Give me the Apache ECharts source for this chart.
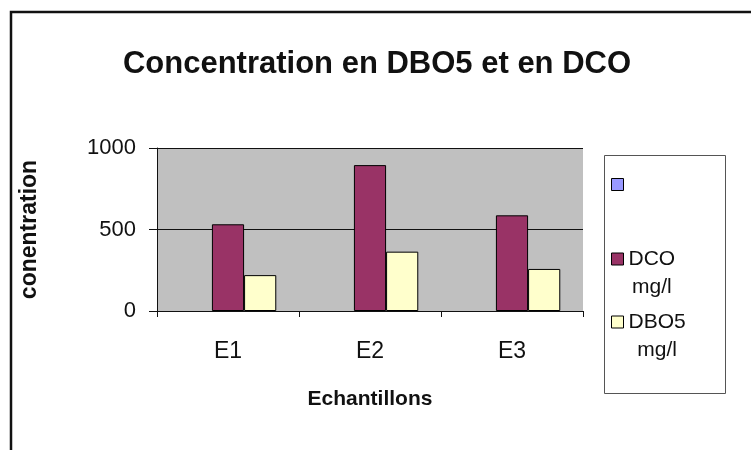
<!DOCTYPE html>
<html><head><meta charset="utf-8">
<script src="https://cdn.jsdelivr.net/npm/echarts@6/dist/echarts.min.js"></script>
<style>html,body{margin:0;padding:0;background:#fff}#c{width:751px;height:450px}</style>
</head><body><div id="c"></div>
<script>
var categories = ['E1', 'E2', 'E3'];
var blankSeries = [null, null, null];
var dcoValues = [532, 895, 587];
var dbo5Values = [220, 364, 258];
var yTicks = [0, 500, 1000];
var seriesNames = [' ', 'DCO\nmg/l', 'DBO5\nmg/l'];

var chart = echarts.init(document.getElementById('c'));
var FONT = '"Liberation Sans", Arial, sans-serif';
var LH = 28;
function leg(name, top) {
  return {
    data: [name], orient: 'vertical', left: 611, top: top, padding: 0,
    itemWidth: 12, itemHeight: 12, itemGap: 0, selectedMode: false,
    icon: 'rect',
    textStyle: { fontFamily: FONT, fontSize: 21, color: '#111', lineHeight: LH, padding: [LH, 0, 0, 0],
      rich: { a: { align: 'center', fontFamily: FONT, fontSize: 21, lineHeight: LH, color: '#111' } } },
    formatter: function (n) { return n.split('\n').map(function (s) { return '{a|' + s + '}'; }).join('\n'); },
    itemStyle: { borderColor: '#000', borderWidth: 1 }
  };
}
chart.setOption({
  animation: false,
  backgroundColor: '#fff',
  title: {
    text: 'Concentration en DBO5 et en DCO', left: 372, top: 44, textAlign: 'center',
    textStyle: { fontFamily: FONT, fontSize: 31, fontWeight: 'bold', color: '#111' }
  },
  graphic: [
    { type: 'rect', shape: { x: 11, y: 12, width: 760, height: 460 }, style: { fill: 'none', stroke: '#111', lineWidth: 2.5 }, silent: true },
    { type: 'rect', shape: { x: 604.5, y: 155.5, width: 121, height: 238 }, style: { fill: 'none', stroke: '#555', lineWidth: 1 }, silent: true }
  ],
  legend: [
    Object.assign(leg(seriesNames[0], 172), { formatter: ' ', textStyle: { fontSize: 21, lineHeight: 25 } }),
    leg(seriesNames[1], 217),
    leg(seriesNames[2], 280)
  ],
  grid: { left: 157, right: 751 - 583, top: 148, bottom: 450 - 311, show: true, backgroundColor: '#c0c0c0', borderWidth: 0 },
  xAxis: {
    type: 'category', data: categories,
    name: 'Echantillons', nameLocation: 'middle', nameGap: 78,
    nameTextStyle: { fontFamily: FONT, fontSize: 21, fontWeight: 'bold', color: '#111' },
    axisLine: { lineStyle: { color: '#111', width: 1 } },
    axisTick: { show: true, alignWithLabel: false, length: 6, lineStyle: { color: '#111' } },
    axisLabel: { fontFamily: FONT, fontSize: 23, color: '#111', margin: 29 }
  },
  yAxis: {
    type: 'value', min: yTicks[0], max: yTicks[2], interval: 500,
    name: 'conentration', nameLocation: 'middle', nameGap: 116, nameRotate: 90,
    nameTextStyle: { fontFamily: FONT, fontSize: 23, fontWeight: 'bold', color: '#111' },
    axisLine: { show: true, lineStyle: { color: '#111', width: 1 } },
    axisTick: { show: true, length: 8, lineStyle: { color: '#111' } },
    axisLabel: { fontFamily: FONT, fontSize: 22, color: '#111', margin: 21,
      formatter: function (v) { return String(v); } },
    splitLine: { show: true, lineStyle: { color: '#111', width: 1 } }
  },
  series: [
    { name: seriesNames[0], type: 'bar', data: blankSeries, barGap: '0%', barCategoryGap: '32%',
      itemStyle: { color: '#9999ff', borderColor: '#000', borderWidth: 1 } },
    { name: seriesNames[1], type: 'bar', data: dcoValues, barGap: '0%', barCategoryGap: '32%',
      itemStyle: { color: '#993366', borderColor: '#000', borderWidth: 1 } },
    { name: seriesNames[2], type: 'bar', data: dbo5Values, barGap: '0%', barCategoryGap: '32%',
      itemStyle: { color: '#ffffcc', borderColor: '#000', borderWidth: 1 } }
  ]
});
</script></body></html>
